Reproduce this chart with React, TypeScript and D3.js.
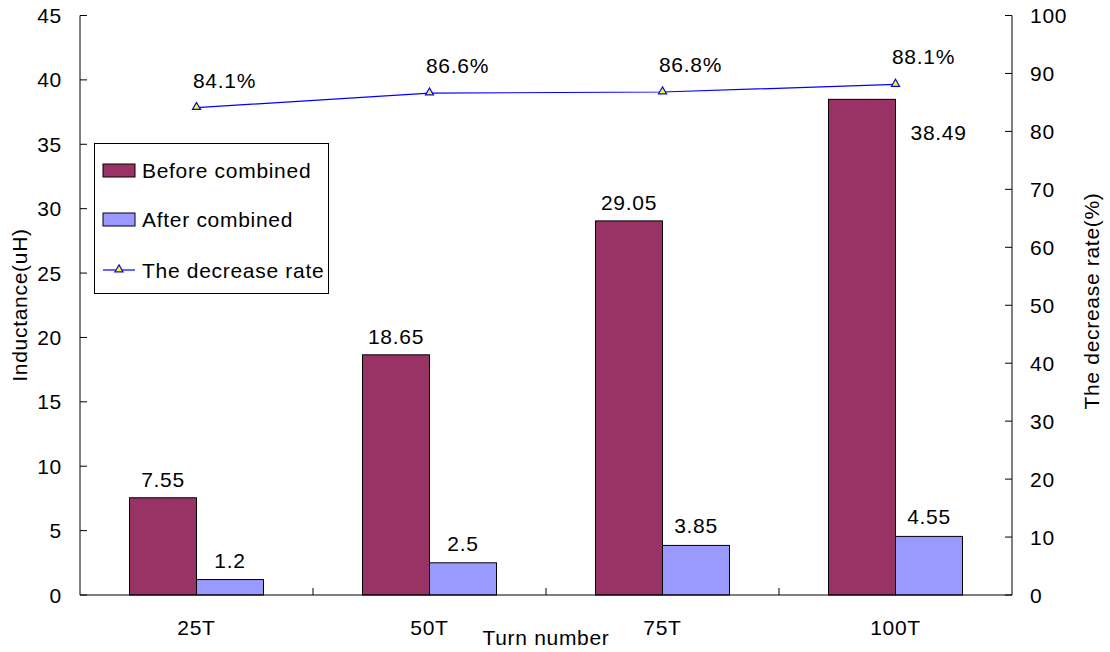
import React, { useEffect, useRef } from "react";
import * as d3 from "d3";

const categories = ["25T", "50T", "75T", "100T"];
const beforeCombined = [7.55, 18.65, 29.05, 38.49];
const afterCombined = [1.2, 2.5, 3.85, 4.55];
const decreaseRate = [84.1, 86.6, 86.8, 88.1];
const leftTicks = [0, 5, 10, 15, 20, 25, 30, 35, 40, 45];
const rightTicks = [0, 10, 20, 30, 40, 50, 60, 70, 80, 90, 100];
const seriesNames = ["Before combined", "After combined", "The decrease rate"];

const W = 1110;
const H = 652;
const FONT = "'Liberation Sans', Arial, sans-serif";
const BEFORE_COLOR = "#993366";
const AFTER_COLOR = "#9999FF";
const LINE_COLOR = "#0000FF";

export default function App() {
  const ref = useRef<SVGSVGElement | null>(null);

  useEffect(() => {
    const svg = d3.select(ref.current);
    svg.selectAll("*").remove();

    const left = 80;
    const right = 1012;
    const top = 15.5;
    const bottom = 595;

    const x = d3.scaleBand<string>().domain(categories).range([left, right]);
    const yL = d3.scaleLinear().domain([0, 45]).range([bottom, top]);
    const yR = d3.scaleLinear().domain([0, 100]).range([bottom, top]);

    const barW = 67;
    const g = svg
      .append("g")
      .attr("font-family", FONT)
      .attr("font-size", 21)
      .attr("letter-spacing", "0.7px");

    // bars
    categories.forEach((c, i) => {
      const cx = x(c)! + x.bandwidth() / 2;
      const yb = yL(beforeCombined[i]);
      const ya = yL(afterCombined[i]);
      g.append("rect")
        .attr("x", cx - barW)
        .attr("y", yb)
        .attr("width", barW)
        .attr("height", bottom - yb)
        .attr("fill", BEFORE_COLOR)
        .attr("stroke", "#000")
        .attr("stroke-width", 1);
      g.append("rect")
        .attr("x", cx)
        .attr("y", ya)
        .attr("width", barW)
        .attr("height", bottom - ya)
        .attr("fill", AFTER_COLOR)
        .attr("stroke", "#000")
        .attr("stroke-width", 1);

      // value labels; the tallest bar's label sits beside it, clear of the rate labels
      const crowded = yR(decreaseRate[i]) + 10 > yb - 30;
      if (crowded) {
        g.append("text")
          .attr("x", cx + 15)
          .attr("y", yb + 41)
          .text(String(beforeCombined[i]));
      } else {
        g.append("text")
          .attr("x", cx - barW / 2)
          .attr("y", yb - 11)
          .attr("text-anchor", "middle")
          .text(String(beforeCombined[i]));
      }
      g.append("text")
        .attr("x", cx + barW / 2)
        .attr("y", ya - 12)
        .attr("text-anchor", "middle")
        .text(String(afterCombined[i]));
    });

    // axes lines
    g.append("line").attr("x1", left).attr("x2", left).attr("y1", top).attr("y2", bottom).attr("stroke", "#000");
    g.append("line").attr("x1", right).attr("x2", right).attr("y1", top).attr("y2", bottom).attr("stroke", "#000");
    g.append("line").attr("x1", left).attr("x2", right).attr("y1", bottom).attr("y2", bottom).attr("stroke", "#000");

    leftTicks.forEach((t) => {
      g.append("line").attr("x1", left).attr("x2", left + 7).attr("y1", yL(t)).attr("y2", yL(t)).attr("stroke", "#000");
      g.append("text")
        .attr("x", 62)
        .attr("y", yL(t))
        .attr("dy", "0.36em")
        .attr("text-anchor", "end")
        .text(String(t));
    });
    rightTicks.forEach((t) => {
      g.append("line").attr("x1", right - 7).attr("x2", right).attr("y1", yR(t)).attr("y2", yR(t)).attr("stroke", "#000");
      g.append("text")
        .attr("x", 1030)
        .attr("y", yR(t))
        .attr("dy", "0.36em")
        .text(String(t));
    });
    // category boundary ticks and labels
    categories.forEach((c, i) => {
      if (i > 0) {
        const bx = x(c)!;
        g.append("line").attr("x1", bx).attr("x2", bx).attr("y1", bottom - 7).attr("y2", bottom).attr("stroke", "#000");
      }
      g.append("text")
        .attr("x", x(c)! + x.bandwidth() / 2)
        .attr("y", 635)
        .attr("text-anchor", "middle")
        .text(c);
    });

    // decrease-rate line
    const pts = categories.map((c, i) => [x(c)! + x.bandwidth() / 2, yR(decreaseRate[i])] as [number, number]);
    g.append("path")
      .attr("d", d3.line()(pts)!)
      .attr("fill", "none")
      .attr("stroke", LINE_COLOR)
      .attr("stroke-width", 1.2);
    const tri = d3.symbol().type(d3.symbolTriangle).size(28);
    pts.forEach(([px, py], i) => {
      g.append("path")
        .attr("d", tri()!)
        .attr("transform", `translate(${px},${py - 0.5})`)
        .attr("fill", "#FFFF00")
        .attr("stroke", LINE_COLOR)
        .attr("stroke-width", 1.2);
      g.append("text")
        .attr("x", px + 28)
        .attr("y", py - 20)
        .attr("text-anchor", "middle")
        .text(`${decreaseRate[i]}%`);
    });

    // axis titles
    g.append("text")
      .attr("transform", `translate(27,305) rotate(-90)`)
      .attr("text-anchor", "middle")
      .text("Inductance(uH)");
    g.append("text")
      .attr("transform", `translate(1099,301) rotate(-90)`)
      .attr("text-anchor", "middle")
      .text("The decrease rate(%)");
    g.append("text")
      .attr("x", (left + right) / 2)
      .attr("y", 645)
      .attr("text-anchor", "middle")
      .text("Turn number");

    // legend
    const lg = g.append("g");
    lg.append("rect")
      .attr("x", 94.5)
      .attr("y", 143.5)
      .attr("width", 234)
      .attr("height", 150)
      .attr("fill", "#fff")
      .attr("stroke", "#000");
    const rows = [170, 219, 270];
    rows.forEach((ry, i) => {
      if (i < 2) {
        lg.append("rect")
          .attr("x", 103)
          .attr("y", ry - 6)
          .attr("width", 32)
          .attr("height", 13)
          .attr("fill", i === 0 ? BEFORE_COLOR : AFTER_COLOR)
          .attr("stroke", "#000");
      } else {
        lg.append("line")
          .attr("x1", 103)
          .attr("x2", 135)
          .attr("y1", ry)
          .attr("y2", ry)
          .attr("stroke", LINE_COLOR)
          .attr("stroke-width", 1.2);
        lg.append("path")
          .attr("d", tri()!)
          .attr("transform", `translate(119,${ry - 0.5})`)
          .attr("fill", "#FFFF00")
          .attr("stroke", LINE_COLOR)
          .attr("stroke-width", 1.2);
      }
      lg.append("text")
        .attr("x", 142)
        .attr("y", ry)
        .attr("dy", "0.36em")
        .text(seriesNames[i]);
    });
  }, []);

  return (
    <svg
      ref={ref}
      width={W}
      height={H}
      style={{ position: "absolute", left: 0, top: 0, background: "#fff" }}
    />
  );
}
